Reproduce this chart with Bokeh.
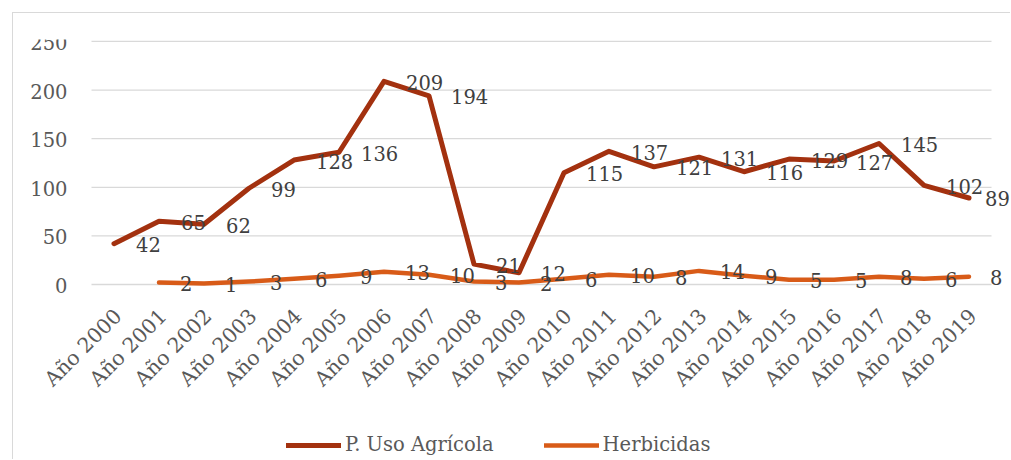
import math
from bokeh.plotting import figure
from bokeh.models import ColumnDataSource, Legend, LegendItem, Range1d
from bokeh.core.properties import value
from bokeh.embed import file_html
from bokeh.resources import INLINE

years = ["Año 2000", "Año 2001", "Año 2002", "Año 2003", "Año 2004", "Año 2005",
         "Año 2006", "Año 2007", "Año 2008", "Año 2009", "Año 2010", "Año 2011",
         "Año 2012", "Año 2013", "Año 2014", "Año 2015", "Año 2016", "Año 2017",
         "Año 2018", "Año 2019"]
uso_agricola = [42, 65, 62, 99, 128, 136, 209, 194, 21, 12, 115, 137, 121, 131,
                116, 129, 127, 145, 102, 89]
herbicidas = [float("nan"), 2, 1, 3, 6, 9, 13, 10, 3, 2, 6, 10, 8, 14, 9, 5, 5, 8, 6, 8]
y_ticks = [0, 50, 100, 150, 200, 250]

FONT = "DejaVu Serif"
FS = "19.5px"
C_USO = "#A3310F"
C_HERB = "#D85B18"
GRID = "#D9D9D9"

n = len(years)
idx = list(range(n))
# label offsets: Excel pulls the last label in a little to keep it inside the chart
dx_uso = [22] * (n - 1) + [16]
src_uso = ColumnDataSource(dict(x=idx, y=uso_agricola, t=[str(v) for v in uso_agricola],
                                dx=dx_uso))
src_herb_line = ColumnDataSource(dict(x=idx, y=herbicidas))
hx = [i for i, v in zip(idx, herbicidas) if v == v]
hv = [v for v in herbicidas if v == v]
src_herb = ColumnDataSource(dict(x=hx, y=hv, t=[str(int(v)) for v in hv]))
src_grid = ColumnDataSource(dict(x0=[-0.5] * len(y_ticks), x1=[n - 0.5] * len(y_ticks),
                                 y=y_ticks))
src_cat = ColumnDataSource(dict(x=idx, y=[0] * n, t=years))
src_ytk = ColumnDataSource(dict(x=[-0.5] * len(y_ticks), y=y_ticks,
                                t=[str(v) for v in y_ticks]))

p = figure(width=998, height=447, x_range=Range1d(-2.211, 19.922), y_range=Range1d(-180, 252),
           output_backend="svg", toolbar_location=None,
           min_border_left=1, min_border_right=1, min_border_top=26, min_border_bottom=1,
           styles={"margin-left": "12px", "margin-top": "12px",
                   "border-left": "1px solid #D9D9D9", "border-top": "1px solid #D9D9D9"})
p.outline_line_color = None
p.background_fill_color = "white"
p.border_fill_color = "white"
p.xgrid.grid_line_color = None
p.ygrid.grid_line_color = None
p.xaxis.visible = False
p.yaxis.visible = False

# horizontal gridlines at the y ticks, spanning the category band
p.segment("x0", "y", "x1", "y", source=src_grid, line_color=GRID, line_width=1.3)

# value-axis tick labels
p.text("x", "y", text="t", source=src_ytk, x_offset=-24, y_offset=1,
       text_font=value(FONT), text_font_size=FS, text_color="#595959",
       text_align="right", text_baseline="middle")

# category labels, rotated 45 degrees under the zero line
p.text("x", "y", text="t", source=src_cat, angle=math.pi / 4, x_offset=4, y_offset=28,
       text_font=value(FONT), text_font_size="20.5px", text_color="#595959",
       text_align="right", text_baseline="middle")

r1 = p.line("x", "y", source=src_uso, line_color=C_USO, line_width=5,
            line_join="round", line_cap="round")
r2 = p.line("x", "y", source=src_herb_line, line_color=C_HERB, line_width=4.5,
            line_join="round", line_cap="round")

p.text("x", "y", text="t", source=src_uso, x_offset="dx", y_offset=1,
       text_font=value(FONT), text_font_size=FS, text_color="#404040",
       text_align="left", text_baseline="middle")
p.text("x", "y", text="t", source=src_herb, x_offset=21, y_offset=1,
       text_font=value(FONT), text_font_size=FS, text_color="#404040",
       text_align="left", text_baseline="middle")

legend = Legend(items=[LegendItem(label="P. Uso Agrícola", renderers=[r1]),
                       LegendItem(label="Herbicidas", renderers=[r2])],
                orientation="horizontal", location=(272, 3),
                glyph_width=55, glyph_height=20, label_standoff=4, spacing=50,
                padding=2, margin=0, border_line_color=None,
                background_fill_alpha=0,
                label_text_font=FONT, label_text_font_size=FS,
                label_text_color="#595959")
p.add_layout(legend, "center")

open("out.html", "w").write(file_html(p, INLINE))
